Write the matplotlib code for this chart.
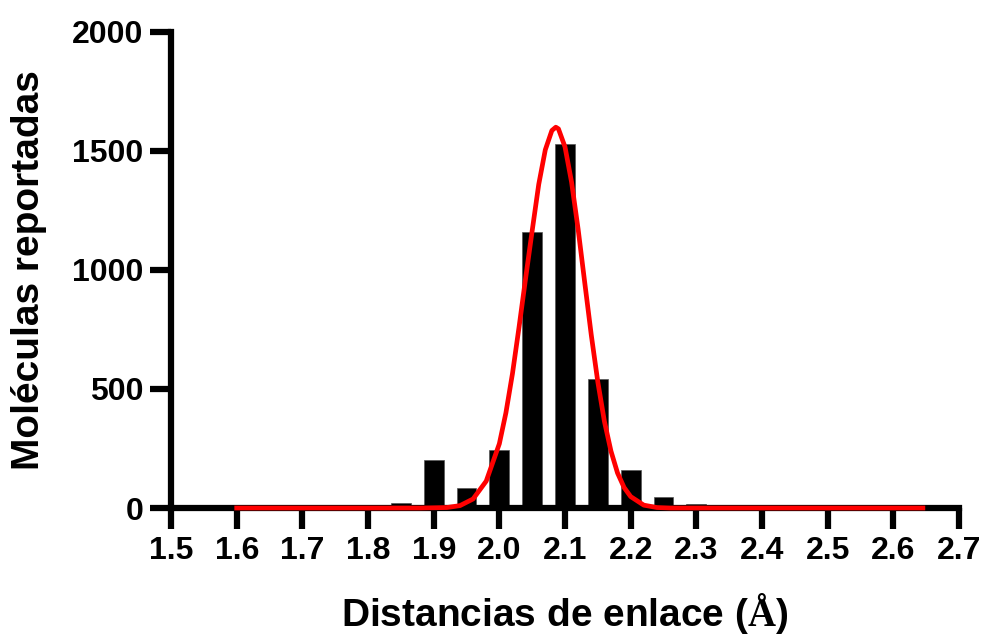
import matplotlib
matplotlib.use("Agg")
import matplotlib.pyplot as plt

# bins (bond distance, Å) and counts
distancias = [1.60, 1.65, 1.70, 1.75, 1.80, 1.85, 1.90, 1.95, 2.00, 2.05, 2.10,
              2.15, 2.20, 2.25, 2.30, 2.35, 2.40, 2.45, 2.50, 2.55, 2.60, 2.65]
moleculas = [10, 10, 10, 10, 10, 22, 200, 84, 244, 1160, 1530,
             542, 160, 48, 17, 10, 10, 10, 10, 10, 10, 10]

# gaussian fit curve
ajuste_x = [1.60, 1.88, 1.90, 1.92, 1.94, 1.96, 1.98, 2.00, 2.01, 2.02, 2.03,
            2.04, 2.05, 2.06, 2.07, 2.08, 2.086, 2.09, 2.10, 2.11, 2.12, 2.13,
            2.14, 2.15, 2.16, 2.17, 2.18, 2.19, 2.20, 2.22, 2.24, 2.26, 2.30,
            2.645]
ajuste_y = [0, 0, 1, 2, 10, 38, 113, 270, 400, 565, 760,
            965, 1165, 1360, 1505, 1586, 1600, 1593, 1517, 1369, 1171, 948,
            727, 529, 364, 239, 147, 86, 48, 12, 2, 0, 0,
            0]

xticks = [1.5, 1.6, 1.7, 1.8, 1.9, 2.0, 2.1, 2.2, 2.3, 2.4, 2.5, 2.6, 2.7]
yticks = [0, 500, 1000, 1500, 2000]

plt.rcParams['font.family'] = ['Liberation Sans', 'DejaVu Sans']
plt.rcParams['font.weight'] = 'bold'
plt.rcParams['mathtext.fontset'] = 'custom'
plt.rcParams['mathtext.bf'] = 'Liberation Serif:bold'

fig = plt.figure(figsize=(9.87, 6.37), dpi=100)
ax = fig.add_axes([0.1733, 0.2025, 0.7983, 0.7473])

ax.bar(distancias, moleculas, width=0.03, color='black', edgecolor='#555555',
       linewidth=0.5, zorder=2)
ax.plot(ajuste_x, ajuste_y, color='red', linewidth=3.4, zorder=4, clip_on=False,
        solid_joinstyle='round')

ax.set_xlim(1.5, 2.7)
ax.set_ylim(0, 2000)
ax.set_xticks(xticks)
ax.set_xticklabels([f"{t:.1f}" for t in xticks])
ax.set_yticks(yticks)

for s in ['top', 'right']:
    ax.spines[s].set_visible(False)
for s in ['left', 'bottom']:
    ax.spines[s].set_linewidth(4.5)
    ax.spines[s].set_zorder(3)
ax.tick_params(width=4.5, length=15, labelsize=23, pad=5)

ax.set_xlabel('Distancias de enlace ($\\mathbf{\\AA}$)', fontsize=28,
              fontweight='bold', labelpad=18)
ax.set_ylabel('Moléculas reportadas', fontsize=28, fontweight='bold',
              labelpad=18)

fig.savefig('out.png', dpi=100)
